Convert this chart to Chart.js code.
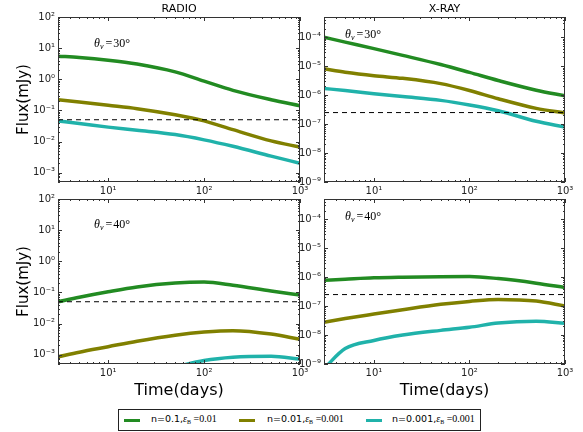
<!DOCTYPE html>
<html>
<head>
<meta charset="utf-8">
<script src="https://cdn.jsdelivr.net/npm/chart.js@4.4.0/dist/chart.umd.min.js"></script>
<style>
  body { margin: 0; background: #fff; width: 583px; height: 432px; position: relative; overflow: hidden; font-family: "DejaVu Sans", sans-serif; }
  canvas { position: absolute; }
  #legend { position: absolute; left: 118px; top: 409px; width: 361px; height: 20px; border: 1px solid #222; background: #fff; }
  #legend .sw { position: absolute; top: 9px; width: 16px; height: 3px; }
  #legend .txt { position: absolute; top: 3px; font-size: 9.5px; color: #000; white-space: nowrap; line-height: 12px; }
  #legend .m { font-family: "Liberation Serif", serif; font-size: 10px; }
  #legend sub { font-size: 6px; vertical-align: -2px; }
</style>
</head>
<body>
<canvas id="radio30" width="320" height="205" style="left:0;top:0"></canvas>
<canvas id="xray30" width="293" height="205" style="left:290px;top:0"></canvas>
<canvas id="radio40" width="320" height="214" style="left:0;top:187px"></canvas>
<canvas id="xray40" width="293" height="214" style="left:290px;top:187px"></canvas>
<div id="legend">
  <span class="sw" style="left:5px;background:#228B22"></span>
  <span class="txt" style="left:32px">n=0.1,<span class="m"><i>ε</i><sub>B</sub> =0.01</span></span>
  <span class="sw" style="left:120px;background:#808000"></span>
  <span class="txt" style="left:148px">n=0.01,<span class="m"><i>ε</i><sub>B</sub> =0.001</span></span>
  <span class="sw" style="left:247px;background:#20B2AA"></span>
  <span class="txt" style="left:273px">n=0.001,<span class="m"><i>ε</i><sub>B</sub> =0.001</span></span>
</div>
<script>
// values
const seriesColors = ["#228B22", "#808000", "#20B2AA"]

const timeRange = [3, 1000]
const timeTicks = [10, 100, 1000]
const radioRange = [5e-4, 100]
const radioTicks = [1e-3, 1e-2, 1e-1, 1, 10, 100]
const xrayRange = [1e-9, 5e-4]
const xrayTicks = [1e-9, 1e-8, 1e-7, 1e-6, 1e-5, 1e-4]
const radioLimit = 0.05
const xrayLimit = 2.5e-7

const days = [3, 5, 10, 20, 50, 100, 200, 500, 1000]

const radio30A = [5.5, 5.0, 4.1, 3.1, 1.73, 0.87, 0.44, 0.22, 0.14]
const radio30B = [0.22, 0.185, 0.145, 0.113, 0.072, 0.046, 0.024, 0.0105, 0.0066]
const radio30C = [0.046, 0.038, 0.029, 0.023, 0.0167, 0.0113, 0.007, 0.0034, 0.002]

const xray30A = [1e-4, 6.8e-5, 4.05e-5, 2.37e-5, 1.14e-5, 6.1e-6, 3.2e-6, 1.48e-6, 9.5e-7]
const xray30B = [8.1e-6, 6.2e-6, 4.7e-6, 3.8e-6, 2.5e-6, 1.45e-6, 7.5e-7, 3.5e-7, 2.4e-7]
const xray30C = [1.7e-6, 1.45e-6, 1.12e-6, 8.9e-7, 6.6e-7, 4.6e-7, 2.9e-7, 1.25e-7, 7.9e-8]

const radio40A = [0.05, 0.07, 0.105, 0.15, 0.2, 0.215, 0.17, 0.11, 0.082]
const radio40B = [8.5e-4, 1.2e-3, 1.8e-3, 2.7e-3, 4.2e-3, 5.3e-3, 5.9e-3, 4.6e-3, 3.1e-3]
const radio40C = [null, null, null, null, 4e-4, 6.5e-4, 8.3e-4, 8.9e-4, 7.2e-4]

const xray40A = [7.8e-7, 8.5e-7, 9.5e-7, 1.0e-6, 1.04e-6, 1.05e-6, 8.9e-7, 6.2e-7, 4.4e-7]
const xray40B = [2.75e-8, 3.7e-8, 5.3e-8, 7.5e-8, 1.15e-7, 1.45e-7, 1.7e-7, 1.5e-7, 1.0e-7]
const xray40C = [7e-10, 3.4e-9, 6.5e-9, 1e-8, 1.45e-8, 1.85e-8, 2.6e-8, 3.0e-8, 2.55e-8]

const sup = { "-": "⁻", "0": "⁰", "1": "¹", "2": "²", "3": "³", "4": "⁴", "5": "⁵", "6": "⁶", "7": "⁷", "8": "⁸", "9": "⁹" }
const pow10 = (v) => "10" + String(Math.round(Math.log10(v))).split("").map(c => sup[c]).join("")

function logMarks(min, max) {
  const out = []
  for (let e = Math.floor(Math.log10(min)); e <= Math.ceil(Math.log10(max)); e++) {
    for (let k = 1; k <= 9; k++) {
      const v = k * Math.pow(10, e)
      if (v >= min * 0.999 && v <= max * 1.001) out.push({ v, major: k === 1 })
    }
  }
  return out
}

// frame, inward ticks, panel title and angle note
const panelDecor = {
  id: "panelDecor",
  afterDatasetsDraw(chart, args, opts) {
    const { ctx, chartArea: a, scales } = chart
    ctx.save()
    ctx.strokeStyle = "#333"
    ctx.lineWidth = 1
    ctx.beginPath()
    logMarks(scales.x.min, scales.x.max).forEach(m => {
      const px = Math.round(scales.x.getPixelForValue(m.v)) + 0.5
      const len = m.major ? 4 : 2
      ctx.moveTo(px, a.bottom); ctx.lineTo(px, a.bottom - len)
      ctx.moveTo(px, a.top); ctx.lineTo(px, a.top + len)
    })
    logMarks(scales.y.min, scales.y.max).forEach(m => {
      const py = Math.round(scales.y.getPixelForValue(m.v)) + 0.5
      const len = m.major ? 4 : 2
      ctx.moveTo(a.left, py); ctx.lineTo(a.left + len, py)
      ctx.moveTo(a.right, py); ctx.lineTo(a.right - len, py)
    })
    ctx.stroke()
    ctx.strokeRect(Math.round(a.left) + 0.5, Math.round(a.top) + 0.5, Math.round(a.right - a.left) - 1, Math.round(a.bottom - a.top) - 1)

    ctx.fillStyle = "#000"
    ctx.textBaseline = "middle"
    if (opts.title) {
      ctx.font = '11px "DejaVu Sans"'
      ctx.textAlign = "center"
      ctx.fillText(opts.title, (a.left + a.right) / 2, a.top - 8)
    }
    ctx.textAlign = "left"
    let x = a.left + opts.noteX
    const y = a.top + opts.noteY
    ctx.font = 'italic 12px "Liberation Serif"'
    ctx.fillText("θ", x, y)
    x += ctx.measureText("θ").width
    ctx.font = 'italic 8px "Liberation Serif"'
    ctx.fillText("v", x, y + 3)
    x += ctx.measureText("v").width + 2
    ctx.font = '12px "Liberation Serif"'
    ctx.fillText("=", x, y)
    x += ctx.measureText("=").width + 1
    ctx.fillText(opts.angle + "°", x, y)
    ctx.restore()
  }
}

function makePanel(id, t, series, limit, yRange, yTicks, cfg) {
  const datasets = series.map((vals, i) => ({
    data: t.map((x, j) => ({ x: x, y: vals[j] })),
    borderColor: seriesColors[i],
    borderWidth: 3.5,
    pointRadius: 0,
    cubicInterpolationMode: "monotone",
    capBezierPoints: false,
    clip: 0,
    order: 2
  }))
  datasets.push({
    data: timeRange.map(x => ({ x: x, y: limit })),
    borderColor: "#000",
    borderWidth: 1,
    borderDash: [5, 4],
    pointRadius: 0,
    clip: 0,
    order: 1
  })
  const tickFont = { family: "DejaVu Sans", size: 10 }
  return new Chart(document.getElementById(id), {
    type: "line",
    data: { datasets },
    plugins: [panelDecor],
    options: {
      responsive: false,
      animation: false,
      devicePixelRatio: 1,
      layout: { padding: { left: 0, top: cfg.padTop, right: cfg.padRight, bottom: 0 } },
      plugins: {
        legend: { display: false },
        tooltip: { enabled: false },
        panelDecor: { title: cfg.title, angle: cfg.angle, noteX: cfg.noteX, noteY: cfg.noteY }
      },
      scales: {
        x: {
          type: "logarithmic",
          min: timeRange[0],
          max: timeRange[1],
          afterBuildTicks: s => { s.ticks = timeTicks.map(v => ({ value: v })) },
          afterFit: s => { s.height = cfg.xh },
          grid: { display: false, drawTicks: false },
          border: { display: false },
          ticks: { padding: 3, color: "#222", font: tickFont, autoSkip: false, maxRotation: 0, callback: v => pow10(v) },
          title: { display: !!cfg.xTitle, text: cfg.xTitle || "", color: "#000", font: { family: "DejaVu Sans", size: 16 }, padding: { top: 0, bottom: 1 } }
        },
        y: {
          type: "logarithmic",
          min: yRange[0],
          max: yRange[1],
          afterBuildTicks: s => { s.ticks = yTicks.map(v => ({ value: v })) },
          afterFit: s => { s.width = cfg.yw },
          grid: { display: false, drawTicks: false },
          border: { display: false },
          ticks: { padding: 3, color: "#222", font: tickFont, autoSkip: false, callback: v => pow10(v) },
          title: { display: !!cfg.yTitle, text: cfg.yTitle || "", color: "#000", font: { family: "DejaVu Sans", size: 15 }, padding: { top: 15, bottom: 0 } }
        }
      }
    }
  })
}

makePanel("radio30", days, [radio30A, radio30B, radio30C], radioLimit, radioRange, radioTicks,
  { title: "RADIO", angle: 30, noteX: 36, noteY: 27, padTop: 17, padRight: 20, yw: 58, xh: 23, yTitle: "Flux(mJy)" })
makePanel("xray30", days, [xray30A, xray30B, xray30C], xrayLimit, xrayRange, xrayTicks,
  { title: "X-RAY", angle: 30, noteX: 21, noteY: 18, padTop: 17, padRight: 18, yw: 34, xh: 23 })
makePanel("radio40", days, [radio40A, radio40B, radio40C], radioLimit, radioRange, radioTicks,
  { angle: 40, noteX: 36, noteY: 26, padTop: 12, padRight: 20, yw: 58, xh: 37, yTitle: "Flux(mJy)", xTitle: "Time(days)" })
makePanel("xray40", days, [xray40A, xray40B, xray40C], xrayLimit, xrayRange, xrayTicks,
  { angle: 40, noteX: 21, noteY: 18, padTop: 12, padRight: 18, yw: 34, xh: 37, xTitle: "Time(days)" })
</script>
</body>
</html>
